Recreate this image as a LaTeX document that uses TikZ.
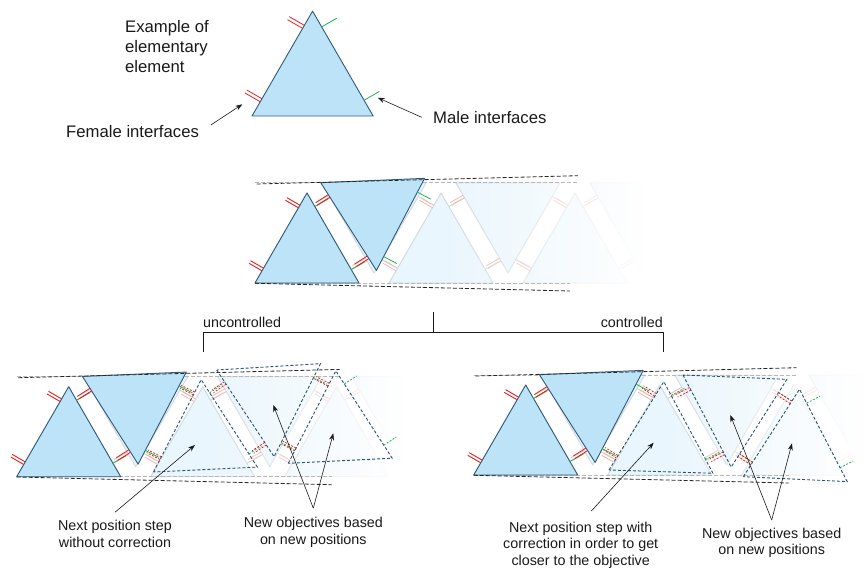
\documentclass[tikz,border=0pt]{standalone}
\usepackage{fontspec}
\setmainfont{Liberation Sans}
\usetikzlibrary{arrows.meta,fadings}

\definecolor{elfill}{RGB}{189,227,248}
\definecolor{elline}{RGB}{47,90,120}
\definecolor{femred}{RGB}{222,34,34}
\definecolor{malgreen}{RGB}{28,178,80}
\definecolor{aimline}{RGB}{38,84,116}
\definecolor{txt}{RGB}{25,25,25}

\newcommand{\bigtxt}{\fontsize{16.7}{20}\selectfont}
\newcommand{\smalltxt}{\fontsize{14.3}{16.6}\selectfont}

\tikzfading[name=fade to right, left color=transparent!100, right color=transparent!0]

\tikzset{
  elbody/.style={fill=elfill, draw=elline, line width=.9pt, line join=round},
  elfem/.style={draw=femred, line width=.8pt},
  elmal/.style={draw=malgreen, line width=.8pt},
  ghost/.style={
    elbody/.style={fill=elfill!32, draw=elline!22, line width=1pt, line join=round},
    elfem/.style={draw=femred!35, line width=.8pt},
    elmal/.style={draw=malgreen!35, line width=.8pt}},
  aim/.style={
    elbody/.style={draw=aimline, line width=.9pt, dash pattern=on 3pt off 2pt},
    elfem/.style={draw=femred, line width=.8pt, dash pattern=on 2pt off 1.5pt},
    elmal/.style={draw=malgreen, line width=.8pt, dash pattern=on 2pt off 1.5pt}},
  flipped/.style={yscale=-1},
  band/.style={black!85, line width=.8pt, dash pattern=on 4pt off 2pt},
  ghostband/.style={black!28, line width=1pt, dash pattern=on 4pt off 2pt},
  pointer/.style={txt, line width=.6pt, -{Stealth[length=7pt,width=5pt]}},
  lbl/.style={font=\smalltxt, text=txt, align=center, inner sep=3pt},
  bracket/.style={txt, line width=1pt},
  pics/elem/.style={code={
    \path[elbody] (0,0) -- (52,-90) -- (104,0) -- cycle;
    % female interfaces, left side
    \foreach \px/\py in {7.8/-13.5, 44.2/-76.5}{
      \draw[elfem] (\px+.75,\py-1.3) -- ++(-13,-7.5);
      \draw[elfem] (\px-.75,\py+1.3) -- ++(-13,-7.5);
    }
    % male interfaces, right side
    \foreach \px/\py in {59.8/-76.5, 96.2/-13.5}
      \draw[elmal] (\px,\py) -- ++(13,-7.5);
  }},
  pics/chain/.style={code={
    % ideal positions
    \foreach \k in {0,1,2}{
      \pic[ghost] at (134*\k,0) {elem};
      \pic[ghost,flipped] at (67+134*\k,-100) {elem};
    }
    \fill[white, path fading=fade to right] (190,-115) rectangle (390,15);
    \fill[white] (390,-115) rectangle (450,15);
    \draw[ghostband] (0,-100) -- (323,-100);
    \draw[ghostband] (0,0) -- (315,0);
    % real positions
    \pic at (0,0) {elem};
    \pic[rotate=2.4,flipped] at (65.7,-100.3) {elem};
    \draw[band] (1.7,-99) -- (323,-107.3);
    \draw[band] (0,0.3) -- (315,8);
  }}
}

\begin{document}
\begin{tikzpicture}[x=1pt,y=-1pt]
\useasboundingbox (0,0) rectangle (864,572);

% elementary element
\pic[scale=1.165] at (252,116) {elem};
\node[font=\bigtxt, text=txt, align=left, anchor=west, inner sep=0] (lexample) at (125,46.7) {Example of\\elementary\\element};
\node[font=\bigtxt, text=txt, anchor=west, inner sep=0] (lfemale) at (66,131.7) {Female interfaces};
\node[font=\bigtxt, text=txt, anchor=west, inner sep=0] (lmale) at (433,118) {Male interfaces};
\coordinate (hfemale) at (242.3,104.3);
\coordinate (hmale) at (377.7,97.7);
\draw[pointer] ([shift={(11.7,-6.7)}]lfemale.east) -- (hfemale);
\draw[pointer] ([shift={(-11.3,-0.7)}]lmale.west) -- (hmale);

% assembly
\pic at (255,283) {chain};

% split
\draw[bracket] (433,312) -- (433,332);
\draw[bracket] (203,352) -- (203,332) -- (663,332) -- (663,352);
\node[lbl, anchor=base west, inner sep=0] (lunc) at (203,327.5) {uncontrolled};
\node[lbl, anchor=base east, inner sep=0] (lcon) at (663,327.5) {controlled};

% uncontrolled
\pic at (16.7,476.7) {chain};
\pic[aim,rotate=2.7] at (153.5,472) {elem};
\pic[aim,rotate=3.5,flipped] at (216.7,370) {elem};
\pic[aim,rotate=2.8] at (288.3,463.3) {elem};

% controlled
\pic at (473.7,475) {chain};
\pic[aim,rotate=-1.8] at (609,470) {elem};
\pic[aim,rotate=-2.4,flipped] at (683,375) {elem};
\pic[aim,rotate=-2.7] at (743.3,476.7) {elem};

% labels
\node[lbl] (lnext) at (115,534) {Next position step\\without correction};
\node[lbl] (lnew) at (313.3,532.3) {New objectives based\\on new positions};
\node[lbl] (rnext) at (580.7,545) {Next position step with\\correction in order to get\\closer to the objective};
\node[lbl] (rnew) at (771.7,542.7) {New objectives based\\on new positions};
\coordinate (hnext) at (195,445);
\coordinate (hnewa) at (273.3,405);
\coordinate (hnewb) at (333.3,433.3);
\coordinate (hrnext) at (653.7,442.7);
\coordinate (hrnewa) at (730.3,415);
\coordinate (hrnewb) at (792,443.3);
\draw[pointer] ([shift={(0,-5)}]lnext.north) -- (hnext);
\draw[pointer] ([shift={(0,-6)}]lnew.north) -- (hnewa);
\draw[pointer] ([shift={(0,-6)}]lnew.north) -- (hnewb);
\draw[pointer] ([shift={(10.6,-7.5)}]rnext.north) -- (hrnext);
\draw[pointer] ([shift={(0,-4.5)}]rnew.north) -- (hrnewa);
\draw[pointer] ([shift={(0,-4.5)}]rnew.north) -- (hrnewb);
\end{tikzpicture}
\end{document}
